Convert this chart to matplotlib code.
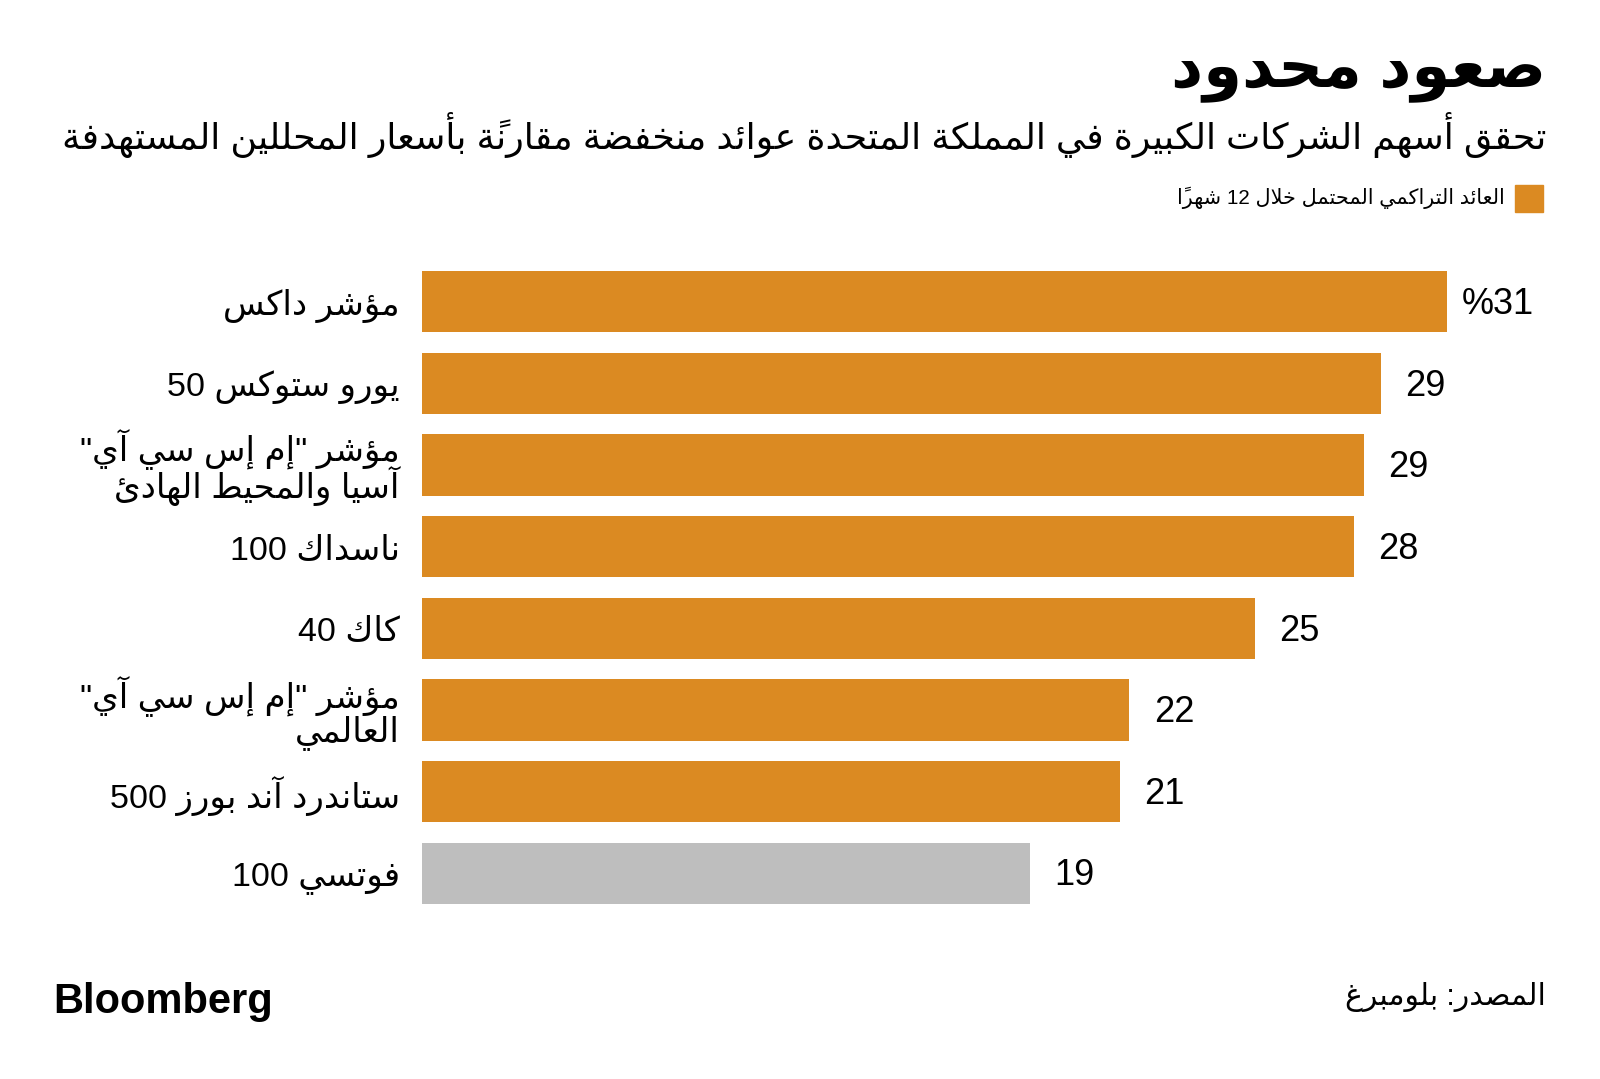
import re
import matplotlib
matplotlib.use("Agg")
import matplotlib.pyplot as plt
from matplotlib.patches import Rectangle

# data
categories = [
    "مؤشر داكس",
    "يورو ستوكس 50",
    "مؤشر \"إم إس سي آي\"\nآسيا والمحيط الهادئ",
    "ناسداك 100",
    "كاك 40",
    "مؤشر \"إم إس سي آي\"\nالعالمي",
    "ستاندرد آند بورز 500",
    "فوتسي 100",
]
values = [31.0, 29.0, 28.5, 28.2, 25.2, 21.4, 21.1, 18.4]
value_labels = ["%31", "29", "29", "28", "25", "22", "21", "19"]

title = "صعود محدود"
subtitle = "تحقق أسهم الشركات الكبيرة في المملكة المتحدة عوائد منخفضة مقارنةً بأسعار المحللين المستهدفة"
legend_label = "العائد التراكمي المحتمل خلال 12 شهراً"
source = "المصدر: بلومبرغ"

ORANGE = "#db8a22"
GREY = "#bebebe"

# --- small arabic shaping (matplotlib has no text layout for arabic) ---
FORMS = {}
code = 0xFE80
for ch, n in [("ء", 1), ("آ", 2), ("أ", 2), ("ؤ", 2), ("إ", 2), ("ئ", 4), ("ا", 2),
              ("ب", 4), ("ة", 2), ("ت", 4), ("ث", 4), ("ج", 4), ("ح", 4), ("خ", 4),
              ("د", 2), ("ذ", 2), ("ر", 2), ("ز", 2), ("س", 4), ("ش", 4), ("ص", 4),
              ("ض", 4), ("ط", 4), ("ظ", 4), ("ع", 4), ("غ", 4), ("ف", 4), ("ق", 4),
              ("ك", 4), ("ل", 4), ("م", 4), ("ن", 4), ("ه", 4), ("و", 2), ("ى", 2),
              ("ي", 4)]:
    FORMS[ch] = [chr(code + k) for k in range(n)]
    code += n
LAM_ALEF = {"آ": 0xFEF5, "أ": 0xFEF7, "إ": 0xFEF9, "ا": 0xFEFB}


def is_mark(c):
    return "\u064b" <= c <= "\u065f" or c == "\u0670"


def joins_next(c):
    return c in FORMS and len(FORMS[c]) == 4


def joins_prev(c):
    return c in FORMS and len(FORMS[c]) >= 2


def shape(s):
    res = []
    i = 0
    n = len(s)
    while i < n:
        c = s[i]
        if c not in FORMS:
            res.append(c)
            i += 1
            continue
        j = i - 1
        while j >= 0 and is_mark(s[j]):
            j -= 1
        p = s[j] if j >= 0 else None
        k = i + 1
        while k < n and is_mark(s[k]):
            k += 1
        nx = s[k] if k < n else None
        jp = p is not None and joins_next(p) and joins_prev(c)
        if c == "ل" and nx in LAM_ALEF:
            res.append(chr(LAM_ALEF[nx] + (1 if jp else 0)))
            res.extend(s[i + 1:k])
            i = k + 1
            continue
        jn = nx is not None and joins_next(c) and joins_prev(nx)
        f = FORMS[c]
        if jp and jn:
            res.append(f[3])
        elif jp:
            res.append(f[1])
        elif jn:
            res.append(f[2])
        else:
            res.append(f[0])
        i += 1
    return "".join(res)


def visual(s):
    s = shape(s)
    runs = re.findall(r"[0-9A-Za-z%.]+|[^0-9A-Za-z%.]+", s)
    out = []
    for r in reversed(runs):
        if re.match(r"[0-9A-Za-z%.]", r):
            out.append(r)
        else:
            clusters = re.findall(r".[\u064b-\u065f\u0670]*", r)
            out.append("".join(reversed(clusters)))
    return "".join(out)


def ar(s):
    return "\n".join(visual(line) for line in s.split("\n"))


plt.rcParams["font.family"] = ["Liberation Sans", "DejaVu Sans"]

fig = plt.figure(figsize=(16, 10.79), dpi=100)
fig.patch.set_facecolor("white")
ax = fig.add_axes([422 / 1600, 0.1529, (1579 - 422) / 1600, 0.6052])

y = list(range(len(values)))
colors = [ORANGE] * (len(values) - 1) + [GREY]
ax.barh(y, values, height=0.75, color=colors)
ax.set_xlim(0, 35)
ax.set_ylim(len(values) - 0.5, -0.5)

ax.set_yticks(y, [ar(c) for c in categories])
ax.tick_params(axis="y", length=0, pad=16, labelsize=24.5)
ax.set_xticks([])
for s in ax.spines.values():
    s.set_visible(False)
for lab in ax.get_yticklabels():
    lab.set_linespacing(0.9)

for i, (v, lab) in enumerate(zip(values, value_labels)):
    off = 11 if i == 0 else 17.5
    ax.annotate(lab, (v, i), xytext=(off, -2), textcoords="offset points",
                va="center", ha="left", fontsize=26, color="black")

fig.text(1546 / 1600, 0.933, ar(title), ha="right", va="center",
         fontsize=45, fontweight="bold")
fig.text(1546 / 1600, 0.875, ar(subtitle), ha="right", va="center", fontsize=26.2)

fig.patches.append(Rectangle((1515 / 1600, 1 - 212 / 1079), 28 / 1600, 27 / 1079,
                             transform=fig.transFigure, color=ORANGE))
fig.text(1505 / 1600, 0.8165, ar(legend_label), ha="right", va="center", fontsize=14.9)

fig.text(53 / 1600, 0.071, "Bloomberg", ha="left", va="center",
         fontsize=30, fontweight="bold")
fig.text(1546 / 1600, 0.076, ar(source), ha="right", va="center", fontsize=21.5)

fig.savefig("out.png", dpi=100, facecolor="white")
